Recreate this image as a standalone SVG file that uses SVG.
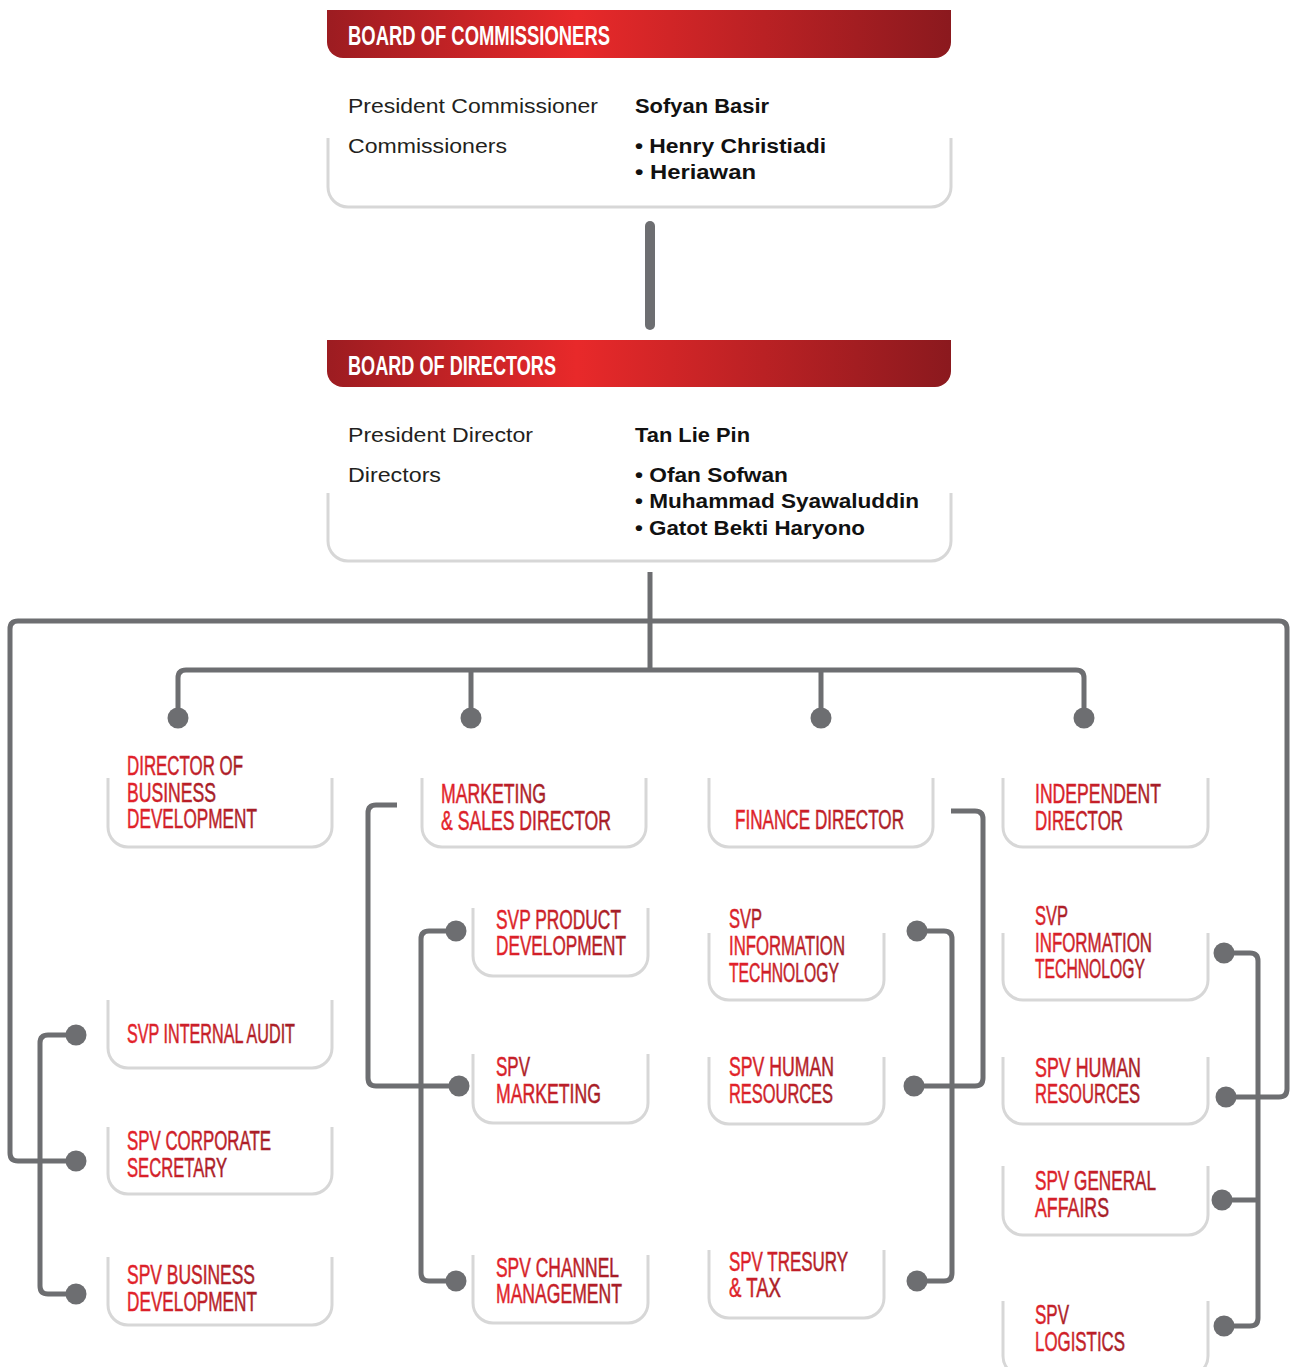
<svg xmlns="http://www.w3.org/2000/svg" width="1291" height="1367" viewBox="0 0 1291 1367">
<defs>
<linearGradient id="hdr" x1="0" y1="0" x2="1" y2="0">
<stop offset="0" stop-color="#9c1c21"/>
<stop offset="0.4" stop-color="#e8292a"/>
<stop offset="1" stop-color="#8b191e"/>
</linearGradient>
<linearGradient id="lbl" x1="0" y1="0" x2="1" y2="0">
<stop offset="0" stop-color="#e5202a"/>
<stop offset="1" stop-color="#a31d27"/>
</linearGradient>
</defs>
<style>
.hbar{fill:url(#hdr)}
.htxt{font-family:"Liberation Sans",Arial,sans-serif;font-weight:bold;font-size:27px;fill:#ffffff}
.box{fill:none;stroke:#d7d7d7;stroke-width:3}
.reg{font-family:"Liberation Sans",Arial,sans-serif;font-size:20px;fill:#231f20}
.bld{font-family:"Liberation Sans",Arial,sans-serif;font-weight:bold;font-size:20px;fill:#111111}
.lbl{font-family:"Liberation Sans Narrow","Liberation Sans",Arial,sans-serif;font-size:27px;fill:url(#lbl);stroke:url(#lbl);stroke-width:0.5}
.con{fill:none;stroke:#6d6e71;stroke-width:5;stroke-linecap:butt;stroke-linejoin:round}
.dot{fill:#6d6e71}
</style>
<rect width="1291" height="1367" fill="#ffffff"/>

<g id="connectors">
<path class="con" d="M650 226 V325" style="stroke-width:10;stroke-linecap:round"/>
<path class="con" d="M650 572 V670"/>
<path class="con" d="M76 1161 H18 Q10 1161 10 1153 V629 Q10 621 18 621 H1279 Q1287 621 1287 629 V1089 Q1287 1097 1279 1097 H1226"/>
<path class="con" d="M178 718 V678 Q178 670 186 670 H1076 Q1084 670 1084 678 V718"/>
<path class="con" d="M471 670 V718"/>
<path class="con" d="M821 670 V718"/>
<path class="con" d="M76 1035 H48 Q40 1035 40 1043 V1286 Q40 1294 48 1294 H76"/>
<path class="con" d="M456 931 H429 Q421 931 421 939 V1273 Q421 1281 429 1281 H456"/>
<path class="con" d="M397 805 H376 Q368 805 368 813 V1078 Q368 1086 376 1086 H459"/>
<path class="con" d="M917 931 H944 Q952 931 952 939 V1273 Q952 1281 944 1281 H917"/>
<path class="con" d="M951 811 H975 Q983 811 983 819 V1078 Q983 1086 975 1086 H914"/>
<path class="con" d="M1224 953 H1250 Q1258 953 1258 961 V1318 Q1258 1326 1250 1326 H1224"/>
<path class="con" d="M1222 1200 H1258"/>
<circle class="dot" cx="178" cy="718" r="10.5"/>
<circle class="dot" cx="471" cy="718" r="10.5"/>
<circle class="dot" cx="821" cy="718" r="10.5"/>
<circle class="dot" cx="1084" cy="718" r="10.5"/>
<circle class="dot" cx="76" cy="1035" r="10.5"/>
<circle class="dot" cx="76" cy="1161" r="10.5"/>
<circle class="dot" cx="76" cy="1294" r="10.5"/>
<circle class="dot" cx="456" cy="931" r="10.5"/>
<circle class="dot" cx="459" cy="1086" r="10.5"/>
<circle class="dot" cx="456" cy="1281" r="10.5"/>
<circle class="dot" cx="917" cy="931" r="10.5"/>
<circle class="dot" cx="914" cy="1086" r="10.5"/>
<circle class="dot" cx="917" cy="1281" r="10.5"/>
<circle class="dot" cx="1224" cy="953" r="10.5"/>
<circle class="dot" cx="1226" cy="1097" r="10.5"/>
<circle class="dot" cx="1222" cy="1200" r="10.5"/>
<circle class="dot" cx="1224" cy="1326" r="10.5"/>
</g>

<g id="board-of-commissioners">
<path class="hbar" d="M327 10 H951 V42 A16 16 0 0 1 935 58 H343 A16 16 0 0 1 327 42 Z"/>
<text class="htxt" x="348" y="45" textLength="262" lengthAdjust="spacingAndGlyphs">BOARD OF COMMISSIONERS</text>
<path class="box" d="M328 138 V187 A20 20 0 0 0 348 207 H931 A20 20 0 0 0 951 187 V138"/>
<text class="reg" x="348" y="113" textLength="250" lengthAdjust="spacingAndGlyphs">President Commissioner</text>
<text class="bld" x="635" y="113" textLength="134" lengthAdjust="spacingAndGlyphs">Sofyan Basir</text>
<text class="reg" x="348" y="153" textLength="159" lengthAdjust="spacingAndGlyphs">Commissioners</text>
<text class="bld" x="635" y="153" textLength="191" lengthAdjust="spacingAndGlyphs">• Henry Christiadi</text>
<text class="bld" x="635" y="179" textLength="121" lengthAdjust="spacingAndGlyphs">• Heriawan</text>
</g>

<g id="board-of-directors">
<path class="hbar" d="M327 340 H951 V371 A16 16 0 0 1 935 387 H343 A16 16 0 0 1 327 371 Z"/>
<text class="htxt" x="348" y="375" textLength="208" lengthAdjust="spacingAndGlyphs">BOARD OF DIRECTORS</text>
<path class="box" d="M328 493 V541 A20 20 0 0 0 348 561 H931 A20 20 0 0 0 951 541 V493"/>
<text class="reg" x="348" y="442" textLength="185" lengthAdjust="spacingAndGlyphs">President Director</text>
<text class="bld" x="635" y="442" textLength="115" lengthAdjust="spacingAndGlyphs">Tan Lie Pin</text>
<text class="reg" x="348" y="482" textLength="93" lengthAdjust="spacingAndGlyphs">Directors</text>
<text class="bld" x="635" y="482" textLength="153" lengthAdjust="spacingAndGlyphs">• Ofan Sofwan</text>
<text class="bld" x="635" y="508" textLength="284" lengthAdjust="spacingAndGlyphs">• Muhammad Syawaluddin</text>
<text class="bld" x="635" y="535" textLength="230" lengthAdjust="spacingAndGlyphs">• Gatot Bekti Haryono</text>
</g>

<g id="director-business-development">
<path class="box" d="M108 778 V827 A20 20 0 0 0 128 847 H312 A20 20 0 0 0 332 827 V778"/>
<text class="lbl" x="127" y="775" textLength="116" lengthAdjust="spacingAndGlyphs">DIRECTOR OF</text>
<text class="lbl" x="127" y="802" textLength="89" lengthAdjust="spacingAndGlyphs">BUSINESS</text>
<text class="lbl" x="127" y="828" textLength="130" lengthAdjust="spacingAndGlyphs">DEVELOPMENT</text>
</g>

<g id="marketing-sales-director">
<path class="box" d="M422 778 V827 A20 20 0 0 0 442 847 H626 A20 20 0 0 0 646 827 V778"/>
<text class="lbl" x="441" y="803" textLength="105" lengthAdjust="spacingAndGlyphs">MARKETING</text>
<text class="lbl" x="441" y="830" textLength="170" lengthAdjust="spacingAndGlyphs">&amp; SALES DIRECTOR</text>
</g>

<g id="finance-director">
<path class="box" d="M709 778 V827 A20 20 0 0 0 729 847 H913 A20 20 0 0 0 933 827 V778"/>
<text class="lbl" x="735" y="829" textLength="169" lengthAdjust="spacingAndGlyphs">FINANCE DIRECTOR</text>
</g>

<g id="independent-director">
<path class="box" d="M1003 778 V827 A20 20 0 0 0 1023 847 H1188 A20 20 0 0 0 1208 827 V778"/>
<text class="lbl" x="1035" y="803" textLength="126" lengthAdjust="spacingAndGlyphs">INDEPENDENT</text>
<text class="lbl" x="1035" y="830" textLength="88" lengthAdjust="spacingAndGlyphs">DIRECTOR</text>
</g>

<g id="svp-internal-audit">
<path class="box" d="M108 1000 V1048 A20 20 0 0 0 128 1068 H312 A20 20 0 0 0 332 1048 V1000"/>
<text class="lbl" x="127" y="1043" textLength="168" lengthAdjust="spacingAndGlyphs">SVP INTERNAL AUDIT</text>
</g>

<g id="spv-corporate-secretary">
<path class="box" d="M108 1127 V1174 A20 20 0 0 0 128 1194 H312 A20 20 0 0 0 332 1174 V1127"/>
<text class="lbl" x="127" y="1150" textLength="144" lengthAdjust="spacingAndGlyphs">SPV CORPORATE</text>
<text class="lbl" x="127" y="1177" textLength="100" lengthAdjust="spacingAndGlyphs">SECRETARY</text>
</g>

<g id="spv-business-development">
<path class="box" d="M108 1257 V1305 A20 20 0 0 0 128 1325 H312 A20 20 0 0 0 332 1305 V1257"/>
<text class="lbl" x="127" y="1284" textLength="128" lengthAdjust="spacingAndGlyphs">SPV BUSINESS</text>
<text class="lbl" x="127" y="1311" textLength="130" lengthAdjust="spacingAndGlyphs">DEVELOPMENT</text>
</g>

<g id="svp-product-development">
<path class="box" d="M473 908 V956 A20 20 0 0 0 493 976 H628 A20 20 0 0 0 648 956 V908"/>
<text class="lbl" x="496" y="929" textLength="125" lengthAdjust="spacingAndGlyphs">SVP PRODUCT</text>
<text class="lbl" x="496" y="955" textLength="130" lengthAdjust="spacingAndGlyphs">DEVELOPMENT</text>
</g>

<g id="spv-marketing">
<path class="box" d="M473 1054 V1103 A20 20 0 0 0 493 1123 H628 A20 20 0 0 0 648 1103 V1054"/>
<text class="lbl" x="496" y="1076" textLength="34" lengthAdjust="spacingAndGlyphs">SPV</text>
<text class="lbl" x="496" y="1103" textLength="105" lengthAdjust="spacingAndGlyphs">MARKETING</text>
</g>

<g id="spv-channel-management">
<path class="box" d="M473 1255 V1303 A20 20 0 0 0 493 1323 H628 A20 20 0 0 0 648 1303 V1255"/>
<text class="lbl" x="496" y="1277" textLength="123" lengthAdjust="spacingAndGlyphs">SPV CHANNEL</text>
<text class="lbl" x="496" y="1303" textLength="126" lengthAdjust="spacingAndGlyphs">MANAGEMENT</text>
</g>

<g id="svp-information-technology-finance">
<path class="box" d="M709 933 V980 A20 20 0 0 0 729 1000 H864 A20 20 0 0 0 884 980 V933"/>
<text class="lbl" x="729" y="928" textLength="33" lengthAdjust="spacingAndGlyphs">SVP</text>
<text class="lbl" x="729" y="955" textLength="116" lengthAdjust="spacingAndGlyphs">INFORMATION</text>
<text class="lbl" x="729" y="982" textLength="110" lengthAdjust="spacingAndGlyphs">TECHNOLOGY</text>
</g>

<g id="spv-human-resources-finance">
<path class="box" d="M709 1057 V1104 A20 20 0 0 0 729 1124 H864 A20 20 0 0 0 884 1104 V1057"/>
<text class="lbl" x="729" y="1076" textLength="105" lengthAdjust="spacingAndGlyphs">SPV HUMAN</text>
<text class="lbl" x="729" y="1103" textLength="104" lengthAdjust="spacingAndGlyphs">RESOURCES</text>
</g>

<g id="spv-tresury-tax">
<path class="box" d="M709 1250 V1298 A20 20 0 0 0 729 1318 H864 A20 20 0 0 0 884 1298 V1250"/>
<text class="lbl" x="729" y="1271" textLength="119" lengthAdjust="spacingAndGlyphs">SPV TRESURY</text>
<text class="lbl" x="729" y="1297" textLength="52" lengthAdjust="spacingAndGlyphs">&amp; TAX</text>
</g>

<g id="svp-information-technology-independent">
<path class="box" d="M1003 933 V980 A20 20 0 0 0 1023 1000 H1188 A20 20 0 0 0 1208 980 V933"/>
<text class="lbl" x="1035" y="925" textLength="33" lengthAdjust="spacingAndGlyphs">SVP</text>
<text class="lbl" x="1035" y="952" textLength="117" lengthAdjust="spacingAndGlyphs">INFORMATION</text>
<text class="lbl" x="1035" y="978" textLength="110" lengthAdjust="spacingAndGlyphs">TECHNOLOGY</text>
</g>

<g id="spv-human-resources-independent">
<path class="box" d="M1003 1057 V1104 A20 20 0 0 0 1023 1124 H1188 A20 20 0 0 0 1208 1104 V1057"/>
<text class="lbl" x="1035" y="1077" textLength="106" lengthAdjust="spacingAndGlyphs">SPV HUMAN</text>
<text class="lbl" x="1035" y="1103" textLength="105" lengthAdjust="spacingAndGlyphs">RESOURCES</text>
</g>

<g id="spv-general-affairs">
<path class="box" d="M1003 1166 V1215 A20 20 0 0 0 1023 1235 H1188 A20 20 0 0 0 1208 1215 V1166"/>
<text class="lbl" x="1035" y="1190" textLength="121" lengthAdjust="spacingAndGlyphs">SPV GENERAL</text>
<text class="lbl" x="1035" y="1217" textLength="74" lengthAdjust="spacingAndGlyphs">AFFAIRS</text>
</g>

<g id="spv-logistics">
<path class="box" d="M1003 1301 V1356 A20 20 0 0 0 1023 1376 H1188 A20 20 0 0 0 1208 1356 V1301"/>
<text class="lbl" x="1035" y="1324" textLength="34" lengthAdjust="spacingAndGlyphs">SPV</text>
<text class="lbl" x="1035" y="1351" textLength="90" lengthAdjust="spacingAndGlyphs">LOGISTICS</text>
</g>
</svg>
